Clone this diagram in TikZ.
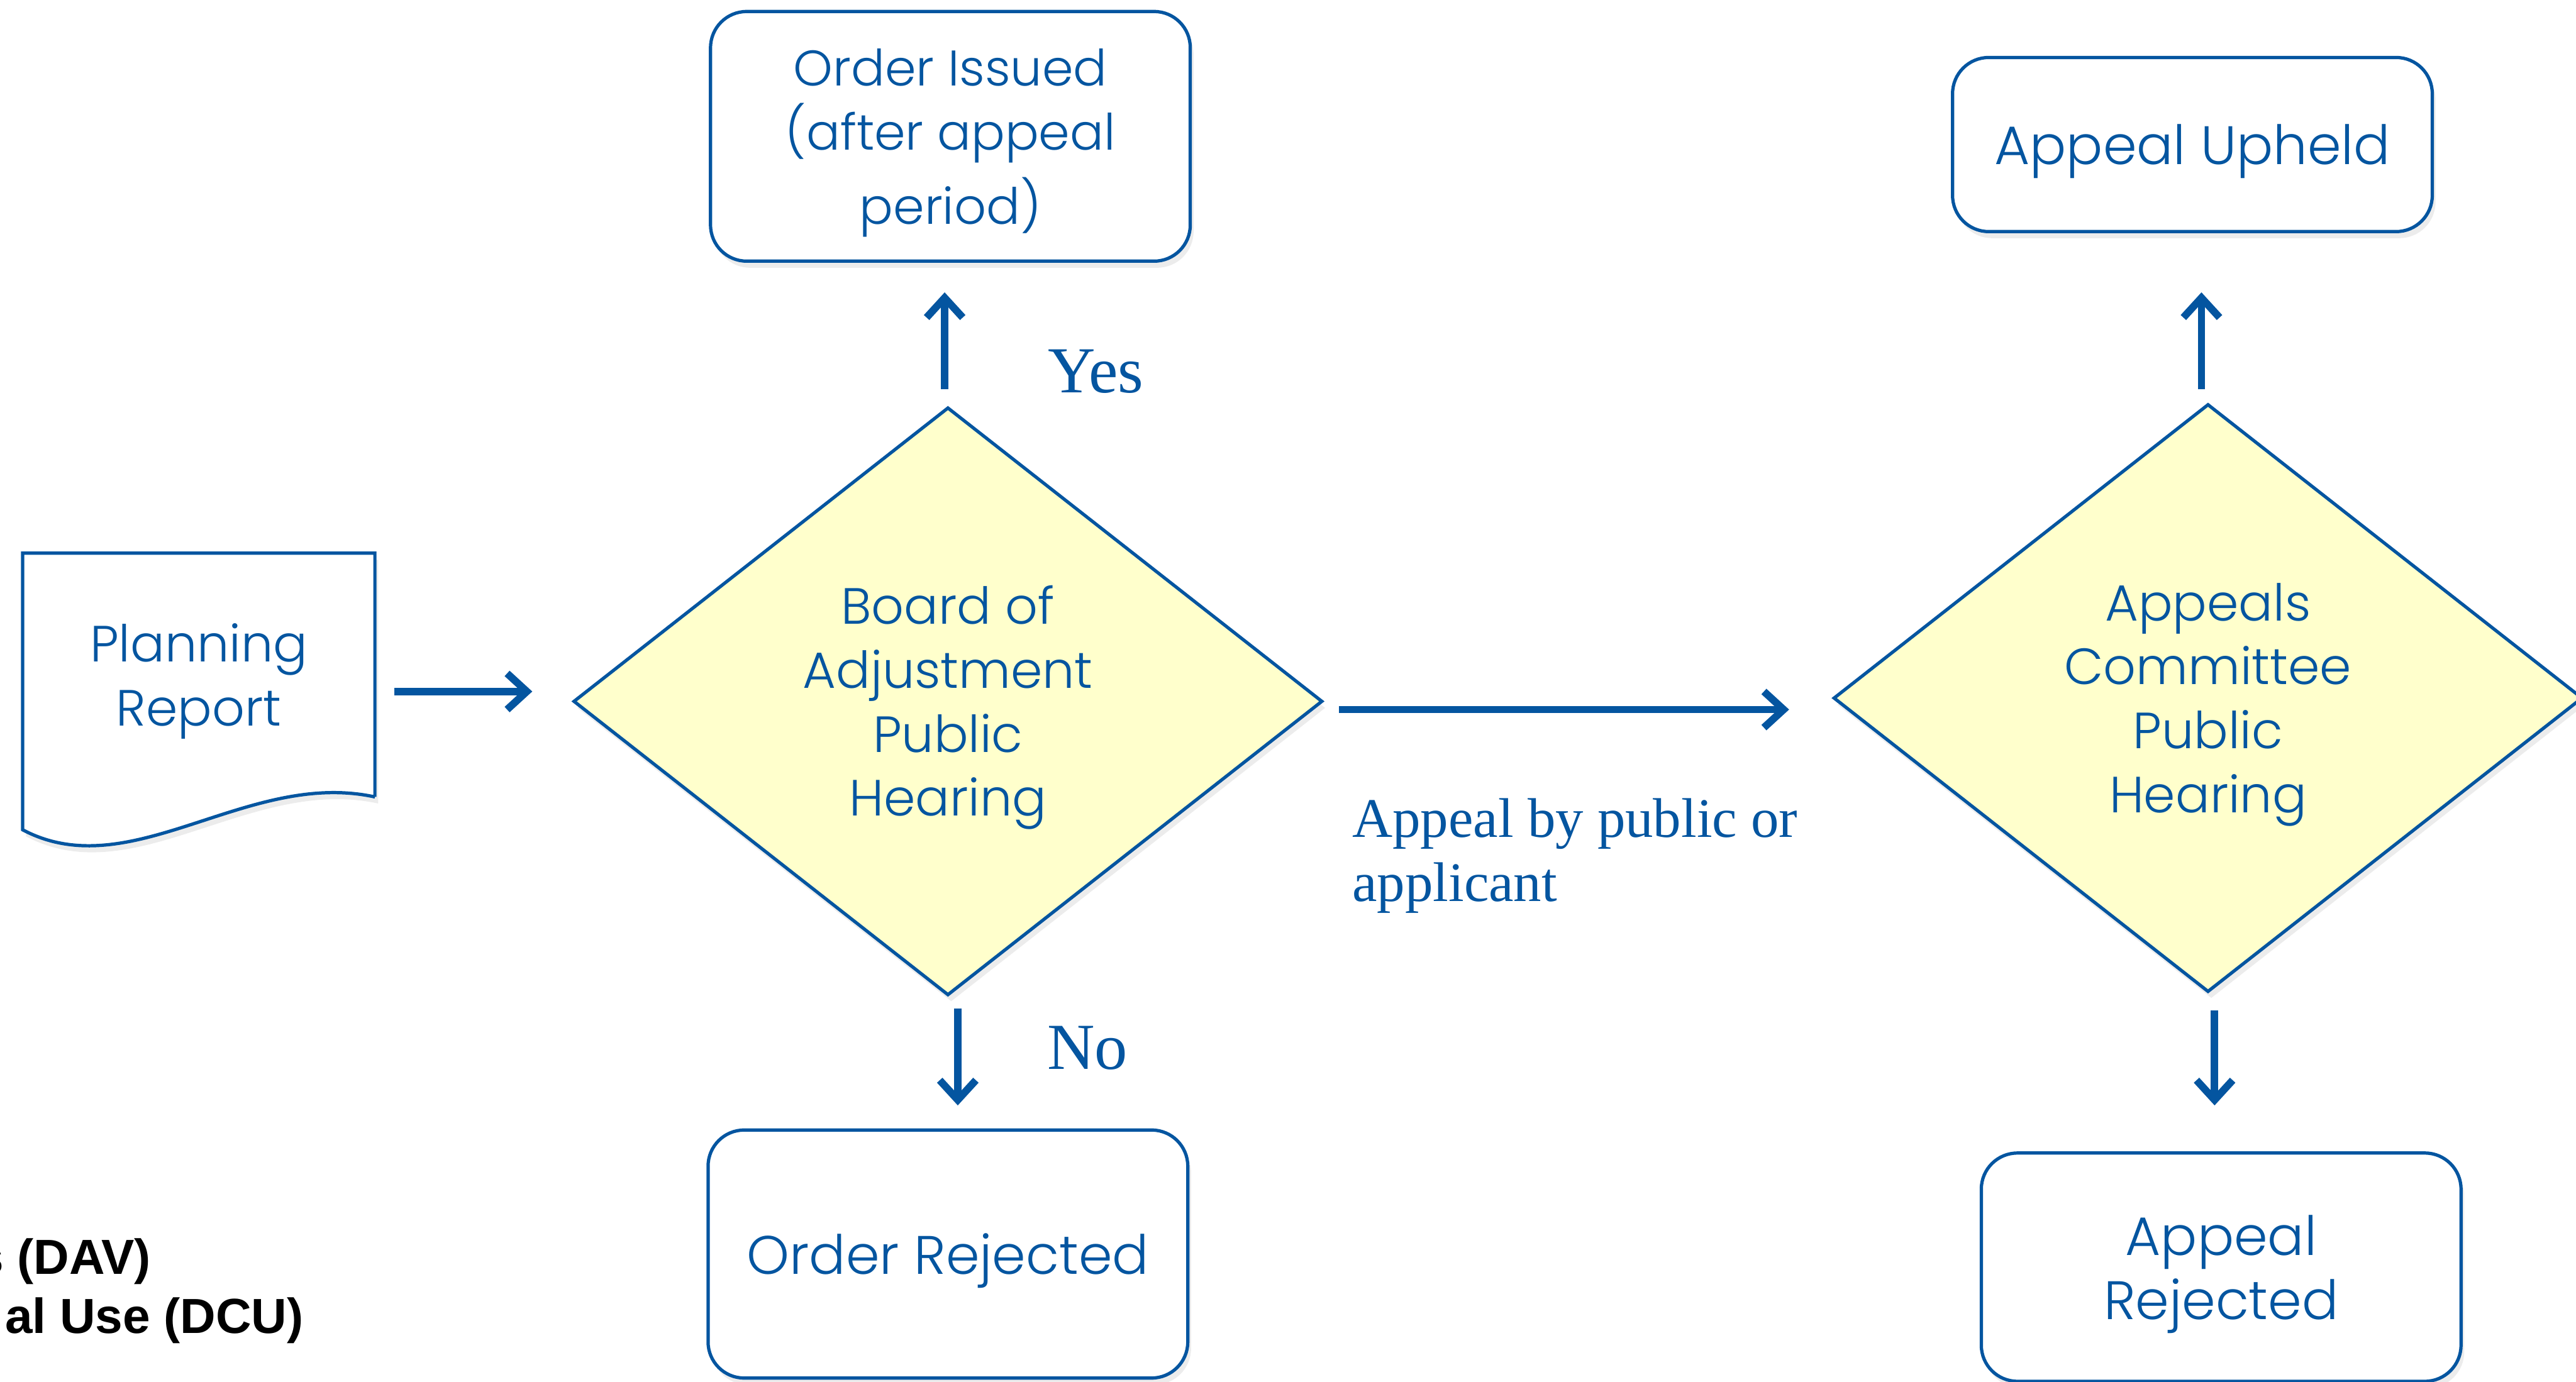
\documentclass[tikz,border=0pt]{standalone}
\usepackage{fontspec}
\usetikzlibrary{shapes.geometric,arrows.meta,shadows,backgrounds}
\setmainfont{Liberation Serif}
\IfFontExistsTF{Poppins Light}{\newfontfamily\boxfont{Poppins Light}}{\newfontfamily\boxfont{Poppins}}
\newfontfamily\notefont{Liberation Sans}
\definecolor{flowblue}{HTML}{0455A0}
\definecolor{hearingfill}{HTML}{FFFFCC}
\newcommand\dropline{\rule{0pt}{1em}}
\begin{document}
\begin{tikzpicture}[x=1pt,y=-1pt]
        \tikzset{
          boxtext/.style={text=flowblue,font=\boxfont\fontsize{#1}{39}\selectfont,align=center},
          boxtext/.default=31,
          softshadow/.style={drop shadow={opacity=0.15,shadow xshift=2pt,shadow yshift=-4pt}},
          outcome/.style={boxtext=#1,draw=flowblue,line width=2pt,fill=white,rounded corners=22pt,
            minimum width=292pt,inner sep=0pt,softshadow},
          outcome/.default=33,
          hearing/.style={boxtext,diamond,draw=flowblue,line width=2pt,fill=hearingfill,
            minimum width=456pt,minimum height=358pt,inner sep=0pt,softshadow},
          flow/.style={flowblue,line width=4.5pt,-{Straight Barb[length=12pt,width=22pt]}},
          answer/.style={text=flowblue,font=\fontsize{40}{48}\selectfont,inner sep=0pt},
          legend/.style={font=\notefont\bfseries\fontsize{30}{36}\selectfont,anchor=east,inner sep=0pt},
        }
        \useasboundingbox (0,0) rectangle (1568,841.4);

        %DOCUMENT
        \node[boxtext=31,minimum width=214pt,minimum height=148pt,inner sep=0pt] (plan) at (121,411) {\dropline Planning\\Report};
        \begin{scope}[on background layer]
          \draw[flowblue,line width=2pt,fill=white,softshadow] (plan.south east) -- (plan.north east) -- (plan.north west)
            -- ([yshift=-20pt]plan.south west) .. controls +(66,35) and ([xshift=-78pt,yshift=17pt]plan.south east) .. (plan.south east);
        \end{scope}

        %HEARINGS
        \node[hearing] (board) at (577,427) {\dropline Board of\\Adjustment\\Public\\Hearing};
        \node[hearing] (committee) at (1344,425) {\dropline Appeals\\Committee\\Public\\Hearing};

        %OUTCOMES
        \node[outcome=30.5,minimum height=152pt] (issued) at (578.5,83) {\dropline Order Issued\\(after appeal\\[6pt]period)};
        \node[outcome,minimum height=151pt] (rejected) at (577,763.5) {\dropline Order Rejected};
        \node[outcome,minimum height=106pt] (upheld) at (1334.5,88) {\dropline Appeal Upheld};
        \node[outcome,minimum height=139pt] (appealrej) at (1352,771.5) {\dropline Appeal\\Rejected};

        %ARROWS
        \draw[flow,shorten <=12pt,shorten >=24pt] ([yshift=-10pt]plan.east) -- ([yshift=-10pt]plan.east -| board.west);
        \draw[flow,shorten <=10pt,shorten >=18pt] ([xshift=-2pt]board.north) -- ([xshift=-2pt]board.north |- issued.south);
        \draw[flow,shorten <=7pt,shorten >=14pt] ([xshift=6pt]board.south) -- ([xshift=6pt]board.south |- rejected.north);
        \draw[flow,shorten <=9pt,shorten >=26pt] ([yshift=-5pt]board.east) -- ([yshift=-5pt]board.east -| committee.west);
        \draw[flow,shorten <=8pt,shorten >=36pt] ([xshift=-4pt]committee.north) -- ([xshift=-4pt]committee.north |- upheld.south);
        \draw[flow,shorten <=10pt,shorten >=28pt] ([xshift=4pt]committee.south) -- ([xshift=4pt]committee.south |- appealrej.north);

        %LABELS
        \node[answer] (yes) at (667,226) {Yes};
        \node[answer] (no) at (662,638) {No};
        \node[text=flowblue,font=\fontsize{34}{39}\selectfont,align=left,anchor=west,inner sep=0pt] (appealby) at (823,521) {Appeal by public or\\applicant};

        %LEGEND
        \node[legend] (dav) at (92,768) {s (DAV)};
        \node[legend] (dcu) at (185,804) {al Use (DCU)};
    \end{tikzpicture}
\end{document}
